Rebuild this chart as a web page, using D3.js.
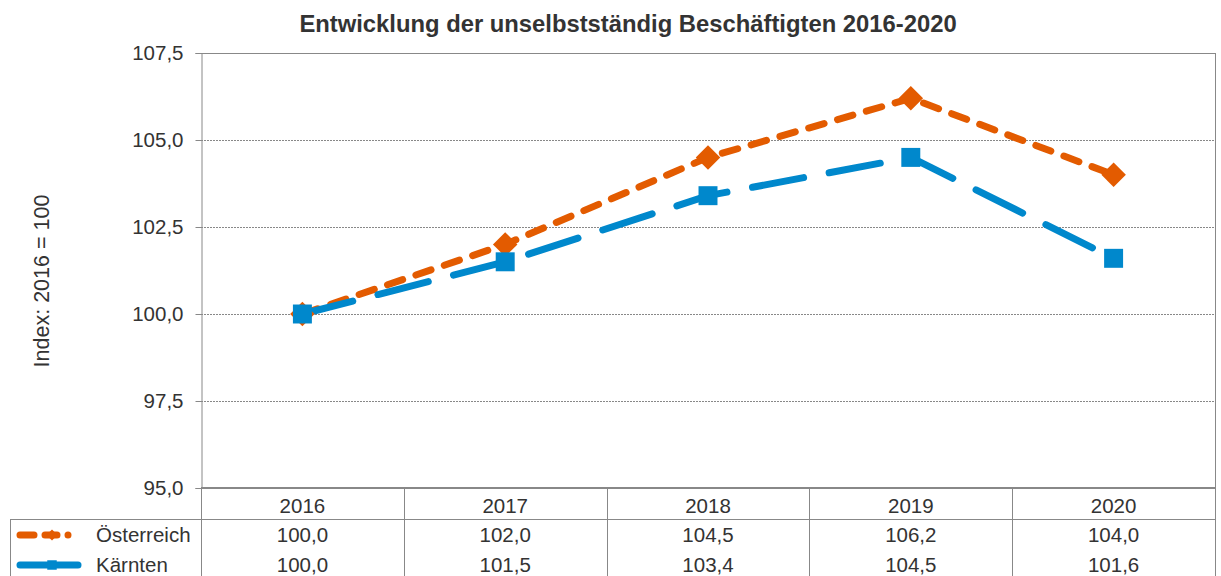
<!DOCTYPE html>
<html>
<head>
<meta charset="utf-8">
<script src="https://cdn.jsdelivr.net/npm/d3@7"></script>
<style>
  body { margin: 0; background: #fff; }
  text { font-family: "Liberation Sans", Arial, sans-serif; fill: #333; }
</style>
</head>
<body>
<div id="chart"></div>
<script>
// data
var years = ['2016', '2017', '2018', '2019', '2020']
var oesterreich = [100.0, 102.0, 104.5, 106.2, 104.0]
var kaernten = [100.0, 101.5, 103.4, 104.5, 101.6]
var yTicks = [95, 97.5, 100, 102.5, 105, 107.5]

var width = 1221, height = 576
var margin = { top: 53, left: 201, right: 6, bottom: 88 }
var fs = '20.5px'

var svg = d3.select('#chart').append('svg')
  .attr('width', width).attr('height', height)

var fmt = function(v) { return d3.format('.1f')(v).replace('.', ',') }

var x = d3.scaleBand().domain(years).range([margin.left, width - margin.right])
var y = d3.scaleLinear().domain([95, 107.5]).range([height - margin.bottom, margin.top])
var cx = function(d, i) { return x(years[i]) + x.bandwidth() / 2 }

// title
svg.append('text')
  .attr('x', 628).attr('y', 32)
  .attr('text-anchor', 'middle')
  .style('font-weight', 'bold').style('font-size', '23.8px')
  .text('Entwicklung der unselbstständig Beschäftigten 2016-2020')

// y label
svg.append('text')
  .attr('transform', 'translate(49,281) rotate(-90)')
  .attr('text-anchor', 'middle').style('font-size', '21.5px')
  .text('Index: 2016 = 100')

// grid
svg.append('g').selectAll('line').data(yTicks.slice(1, 5)).enter().append('line')
  .attr('x1', margin.left).attr('x2', width - margin.right)
  .attr('y1', function(d) { return Math.round(y(d)) + 0.5 })
  .attr('y2', function(d) { return Math.round(y(d)) + 0.5 })
  .attr('stroke', '#888').attr('stroke-dasharray', '2,1')

// frame
svg.append('line').attr('x1', margin.left).attr('x2', width - margin.right)
  .attr('y1', y(107.5) + 0.5).attr('y2', y(107.5) + 0.5).attr('stroke', '#888')
svg.append('line').attr('x1', width - margin.right + 0.5).attr('x2', width - margin.right + 0.5)
  .attr('y1', y(107.5)).attr('y2', height).attr('stroke', '#888')

// y axis
var yAxis = svg.append('g').attr('transform', 'translate(' + (margin.left + 0.5) + ',0)')
  .call(d3.axisLeft(y).tickValues(yTicks).tickFormat(fmt).tickSize(6).tickPadding(12))
yAxis.select('.domain').attr('stroke', '#888')
yAxis.selectAll('.tick line').attr('stroke', '#888')
yAxis.selectAll('.tick text').style('font-size', fs).attr('fill', '#333')
  .style('font-family', '"Liberation Sans", Arial, sans-serif')

// x axis + table
var base = y(95)
svg.append('line').attr('x1', margin.left).attr('x2', width - margin.right)
  .attr('y1', base).attr('y2', base).attr('stroke', '#888').attr('stroke-width', 2)

var gTable = svg.append('g')
gTable.selectAll('line.v').data(years.concat(['end'])).enter().append('line')
  .attr('x1', function(d, i) { return Math.round(margin.left + i * x.bandwidth()) + 0.5 })
  .attr('x2', function(d, i) { return Math.round(margin.left + i * x.bandwidth()) + 0.5 })
  .attr('y1', base).attr('y2', height).attr('stroke', '#888')
gTable.append('line').attr('x1', 10).attr('x2', width - margin.right)
  .attr('y1', base + 31.5).attr('y2', base + 31.5).attr('stroke', '#888')
gTable.append('line').attr('x1', 10.5).attr('x2', 10.5)
  .attr('y1', base + 31).attr('y2', height).attr('stroke', '#888')

gTable.selectAll('text.yr').data(years).enter().append('text')
  .attr('x', function(d) { return x(d) + x.bandwidth() / 2 })
  .attr('y', base + 25).attr('text-anchor', 'middle').style('font-size', fs)
  .text(function(d) { return d })

var series = [
  { name: 'Österreich', values: oesterreich, color: '#E35B00', dash: '16,14', marker: 'diamond' },
  { name: 'Kärnten', values: kaernten, color: '#0088CC', dash: '52,26', marker: 'square' }
]

series.forEach(function(s, k) {
  var ry = base + 31 + k * 30 + 23
  gTable.selectAll('text.v' + k).data(s.values).enter().append('text')
    .attr('x', cx).attr('y', ry).attr('text-anchor', 'middle').style('font-size', fs)
    .text(fmt)
  gTable.append('text').attr('x', 96).attr('y', ry)
    .style('font-size', fs).text(s.name)
  // legend key
  var ly = ry - 7
  gTable.append('line').attr('x1', 20).attr('x2', 78).attr('y1', ly).attr('y2', ly)
    .attr('stroke', s.color).attr('stroke-width', 7).attr('stroke-linecap', 'round')
    .attr('stroke-dasharray', s.marker === 'diamond' ? '14,11,12,11,0,20' : null)
  gTable.append('path')
    .attr('d', d3.symbol().type(d3.symbolSquare).size(s.marker === 'diamond' ? 60 : 90)())
    .attr('transform', 'translate(52,' + ly + ')' + (s.marker === 'diamond' ? ' rotate(45)' : ''))
    .attr('fill', s.color)
})

// lines
var line = d3.line().x(cx).y(function(d) { return y(d) })
series.forEach(function(s) {
  svg.append('path').datum(s.values)
    .attr('d', line).attr('fill', 'none')
    .attr('stroke', s.color).attr('stroke-width', 7)
    .attr('stroke-linecap', 'round').attr('stroke-dasharray', s.dash)
})
series.forEach(function(s) {
  svg.append('g').selectAll('path').data(s.values).enter().append('path')
    .attr('d', s.marker === 'diamond'
      ? d3.symbol().type(d3.symbolSquare).size(300)()
      : d3.symbol().type(d3.symbolSquare).size(360)())
    .attr('transform', function(d, i) {
      return 'translate(' + cx(d, i) + ',' + y(d) + ')' + (s.marker === 'diamond' ? ' rotate(45)' : '')
    })
    .attr('fill', s.color)
})
</script>
</body>
</html>
